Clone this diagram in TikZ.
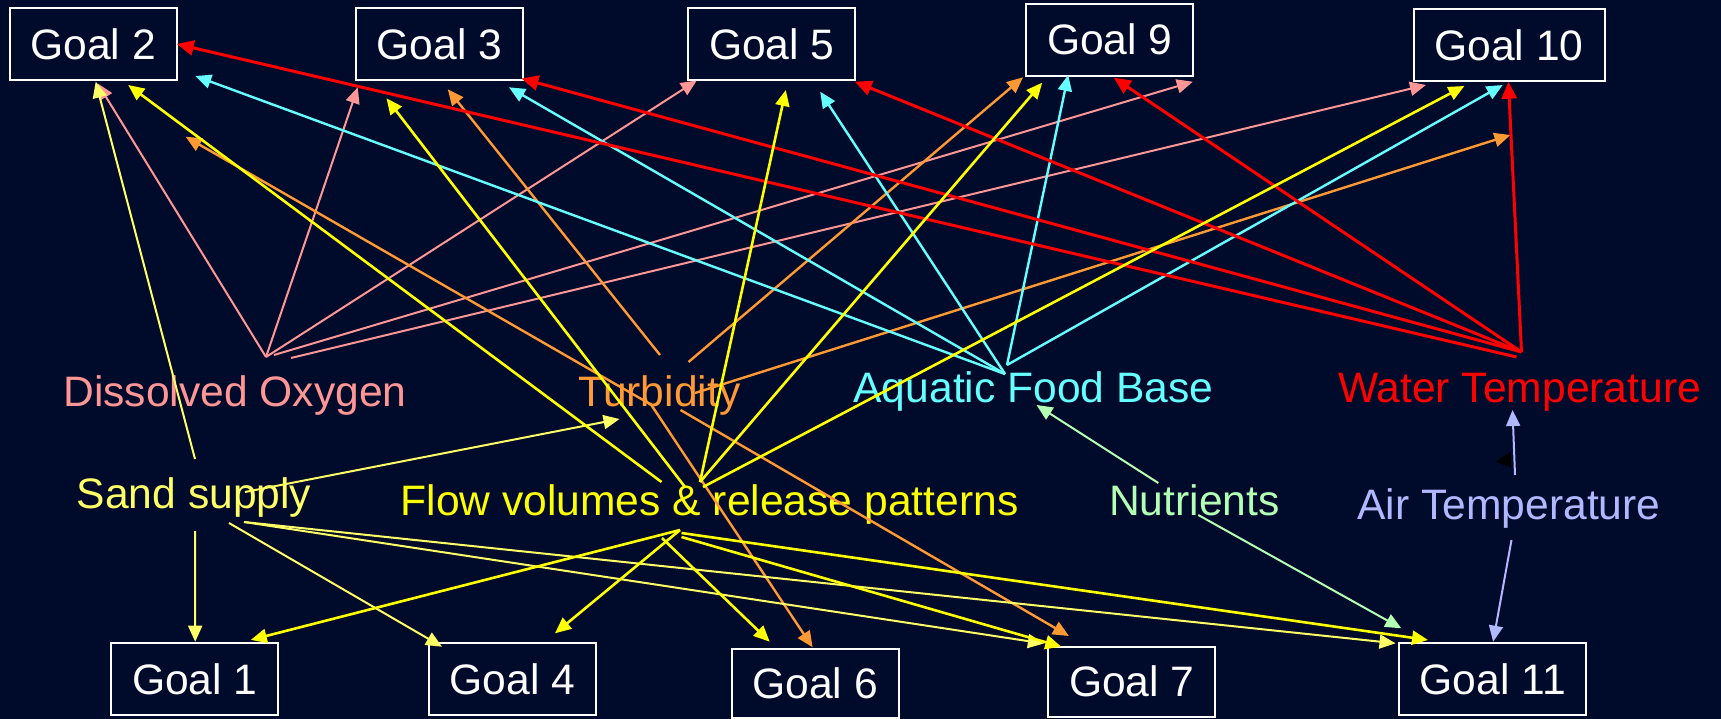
\documentclass[tikz,border=0pt]{standalone}
\usepackage{fontspec}
\setmainfont{Liberation Sans}
\usetikzlibrary{arrows.meta,calc}
\definecolor{bgc}{RGB}{0,10,42}
\definecolor{doc}{RGB}{255,150,150}
\definecolor{tuc}{RGB}{255,153,51}
\definecolor{afc}{RGB}{102,255,255}
\definecolor{wtc}{RGB}{255,0,0}
\definecolor{ssc}{RGB}{255,255,102}
\definecolor{fvc}{RGB}{255,255,0}
\definecolor{nuc}{RGB}{179,255,179}
\definecolor{atc}{RGB}{176,184,255}
\tikzset{
  bigfont/.style={font=\fontsize{42.6}{50}\selectfont},
  goal/.style={bigfont, draw=white, line width=2pt, text=white, inner sep=0pt, minimum height=72pt, minimum width=167pt},
  lbl/.style={bigfont, inner sep=0pt, anchor=base},
  conn/.style={-{Triangle[length=16pt,width=14pt]}},
  doarr/.style={conn, draw=doc, fill=doc, line width=2pt},
  tuarr/.style={conn, draw=tuc, fill=tuc, line width=2.4pt},
  afarr/.style={conn, draw=afc, fill=afc, line width=2.4pt},
  wtarr/.style={-{Triangle[length=17pt,width=15pt]}, draw=wtc, fill=wtc, line width=3pt},
  ssarr/.style={conn, draw=ssc, fill=ssc, line width=2pt},
  fvarr/.style={conn, draw=fvc, fill=fvc, line width=2.6pt},
  nuarr/.style={conn, draw=nuc, fill=nuc, line width=2pt},
  atarr/.style={conn, draw=atc, fill=atc, line width=2pt}
}
\begin{document}
\begin{tikzpicture}[x=1pt,y=-1pt]
\useasboundingbox (0,0) rectangle (1721,719);
\fill[bgc] (0,0) rectangle (1721,719);
% goal boxes
\node[goal] (g2) at (93.2,44.5) {Goal 2};
\node[goal] (g3) at (439.4,44.5) {Goal 3};
\node[goal] (g5) at (771.8,44.5) {Goal 5};
\node[goal] (g9) at (1109.8,39.7) {Goal 9};
\node[goal, minimum width=191pt] (g10) at (1509,45) {Goal 10};
\node[goal] (g1) at (194.8,678.9) {Goal 1};
\node[goal] (g4) at (512.5,679) {Goal 4};
\node[goal, minimum height=69pt] (g6) at (815,683) {Goal 6};
\node[goal, minimum height=70pt] (g7) at (1131.9,681.5) {Goal 7};
\node[goal, minimum width=187pt] (g11) at (1492.7,679) {Goal 11};
% factor labels
\node[lbl, text=doc] (do) at (235,406) {Dissolved Oxygen};
\node[lbl, text=tuc] (tu) at (659.5,406) {Turbidity};
\node[lbl, text=afc] (afb) at (1033.5,402) {Aquatic Food Base};
\node[lbl, text=wtc] (wt) at (1519.5,402) {Water Temperature};
\node[lbl, text=ssc] (ss) at (194,508) {Sand supply};
\node[lbl, text=fvc] (fv) at (709.5,515) {Flow volumes \& release patterns};
\node[lbl, text=nuc] (nu) at (1194.3,515) {Nutrients};
\node[lbl, text=atc] (at) at (1509,519) {Air Temperature};
% Dissolved Oxygen
\draw[doarr] ($(do.base)+(31,-49)$) -- ($(g2.center)+(4.4,38.8)$);
\draw[doarr] ($(do.base)+(31,-49)$) -- ($(g3.center)+(-81.6,42.8)$);
\draw[doarr] ($(do.base)+(31,-49)$) -- ($(g5.center)+(-75,36)$);
\draw[doarr] ($(do.base)+(39,-51)$) -- ($(g9.center)+(83,42)$);
\draw[doarr] ($(do.base)+(56,-48)$) -- ($(g10.center)+(-83,40)$);
% Turbidity
\draw[tuarr] ($(tu.base)+(-9.5,-2)$) -- ($(g2.center)+(92.4,92.2)$);
\draw[tuarr] ($(tu.base)+(0.5,-51)$) -- ($(g3.center)+(8.4,44.8)$);
\draw[tuarr] ($(tu.base)+(29,-44)$) -- ($(g9.center)+(-86.8,37.6)$);
\draw[tuarr] ($(tu.base)+(35.5,-13)$) -- ($(g10.center)+(1.4,90)$);
\draw[tuarr] ($(tu.base)+(-9.5,-3)$) -- ($(g6.center)+(-2.4,-35.7)$);
\draw[tuarr] ($(tu.base)+(21,4)$) -- ($(g7.center)+(-63,-45.5)$);
% Aquatic Food Base
\draw[afarr] ($(afb.base)+(-28.5,-28)$) -- ($(g2.center)+(102,31.5)$);
\draw[afarr] ($(afb.base)+(-28.5,-28)$) -- ($(g3.center)+(69.6,42.8)$);
\draw[afarr] ($(afb.base)+(-28.5,-28)$) -- ($(g5.center)+(48.4,47.2)$);
\draw[afarr] ($(afb.base)+(-26.5,-37)$) -- ($(g9.center)+(-41.6,35.3)$);
\draw[afarr] ($(afb.base)+(-26.5,-37)$) -- ($(g10.center)+(-6.3,40)$);
% Water Temperature
\draw[wtarr] ($(wt.base)+(-3,-45)$) -- ($(g2.center)+(83.6,-0.5)$);
\draw[wtarr] ($(wt.base)+(2,-50)$) -- ($(g3.center)+(82,34)$);
\draw[wtarr] ($(wt.base)+(2,-50)$) -- ($(g5.center)+(83,37.2)$);
\draw[wtarr] ($(wt.base)+(2,-50)$) -- ($(g9.center)+(4,38)$);
\draw[wtarr] ($(wt.base)+(2,-50)$) -- ($(g10.center)+(-0.6,36.7)$);
% Sand supply
\draw[ssarr] ($(ss.base)+(1,-49)$) -- ($(g2.center)+(2.5,37.2)$);
\draw[ssarr] ($(ss.base)+(51,-16)$) -- ($(tu.base)+(-40,13)$);
\draw[ssarr] ($(ss.base)+(1,23)$) -- ($(g1.center)+(0.4,-37.2)$);
\draw[ssarr] ($(ss.base)+(35,15)$) -- ($(g4.center)+(-70.5,-32.3)$);
\draw[ssarr] ($(ss.base)+(50,14)$) -- ($(g7.center)+(-88,-38)$);
\draw[ssarr] ($(ss.base)+(50,14)$) -- ($(g11.center)+(-97.2,-35.7)$);
% Flow volumes & release patterns
\draw[fvarr] ($(fv.base)+(-48,-33)$) -- ($(g2.center)+(35,40.5)$);
\draw[fvarr] ($(fv.base)+(-24.5,-28)$) -- ($(g3.center)+(-52.9,53.8)$);
\draw[fvarr] ($(fv.base)+(-9.5,-33)$) -- ($(g5.center)+(14,45.5)$);
\draw[fvarr] ($(fv.base)+(-9.5,-33)$) -- ($(g9.center)+(-67.6,43)$);
\draw[fvarr] ($(fv.base)+(-6.5,-28)$) -- ($(g10.center)+(-44.6,41)$);
\draw[fvarr] ($(fv.base)+(-29.5,15)$) -- ($(g1.center)+(56,-39)$);
\draw[fvarr] ($(fv.base)+(-29.5,15)$) -- ($(g4.center)+(42.5,-45.7)$);
\draw[fvarr] ($(fv.base)+(-47.5,23)$) -- ($(g6.center)+(-45.3,-41.3)$);
\draw[fvarr] ($(fv.base)+(-28,22)$) -- ($(g7.center)+(-70.6,-34.8)$);
\draw[fvarr] ($(fv.base)+(-28,18)$) -- ($(g11.center)+(-64.7,-39)$);
% Nutrients
\draw[nuarr] ($(nu.base)+(-36,-32)$) -- ($(afb.base)+(3,3)$);
\draw[nuarr] ($(nu.base)+(4,0)$) -- ($(g11.center)+(-91.4,-50.7)$);
% Air Temperature
\draw[atarr] ($(at.base)+(6,-44)$) -- ($(wt.base)+(-7,8)$);
\draw[atarr] ($(at.base)+(2.5,21)$) -- ($(g11.center)+(0.4,-37.3)$);
% stray black arrowhead
\fill[black] (1510.4,451.7) -- (1495.8,461.7) -- (1511.1,467.7) -- cycle;
\end{tikzpicture}
\end{document}
